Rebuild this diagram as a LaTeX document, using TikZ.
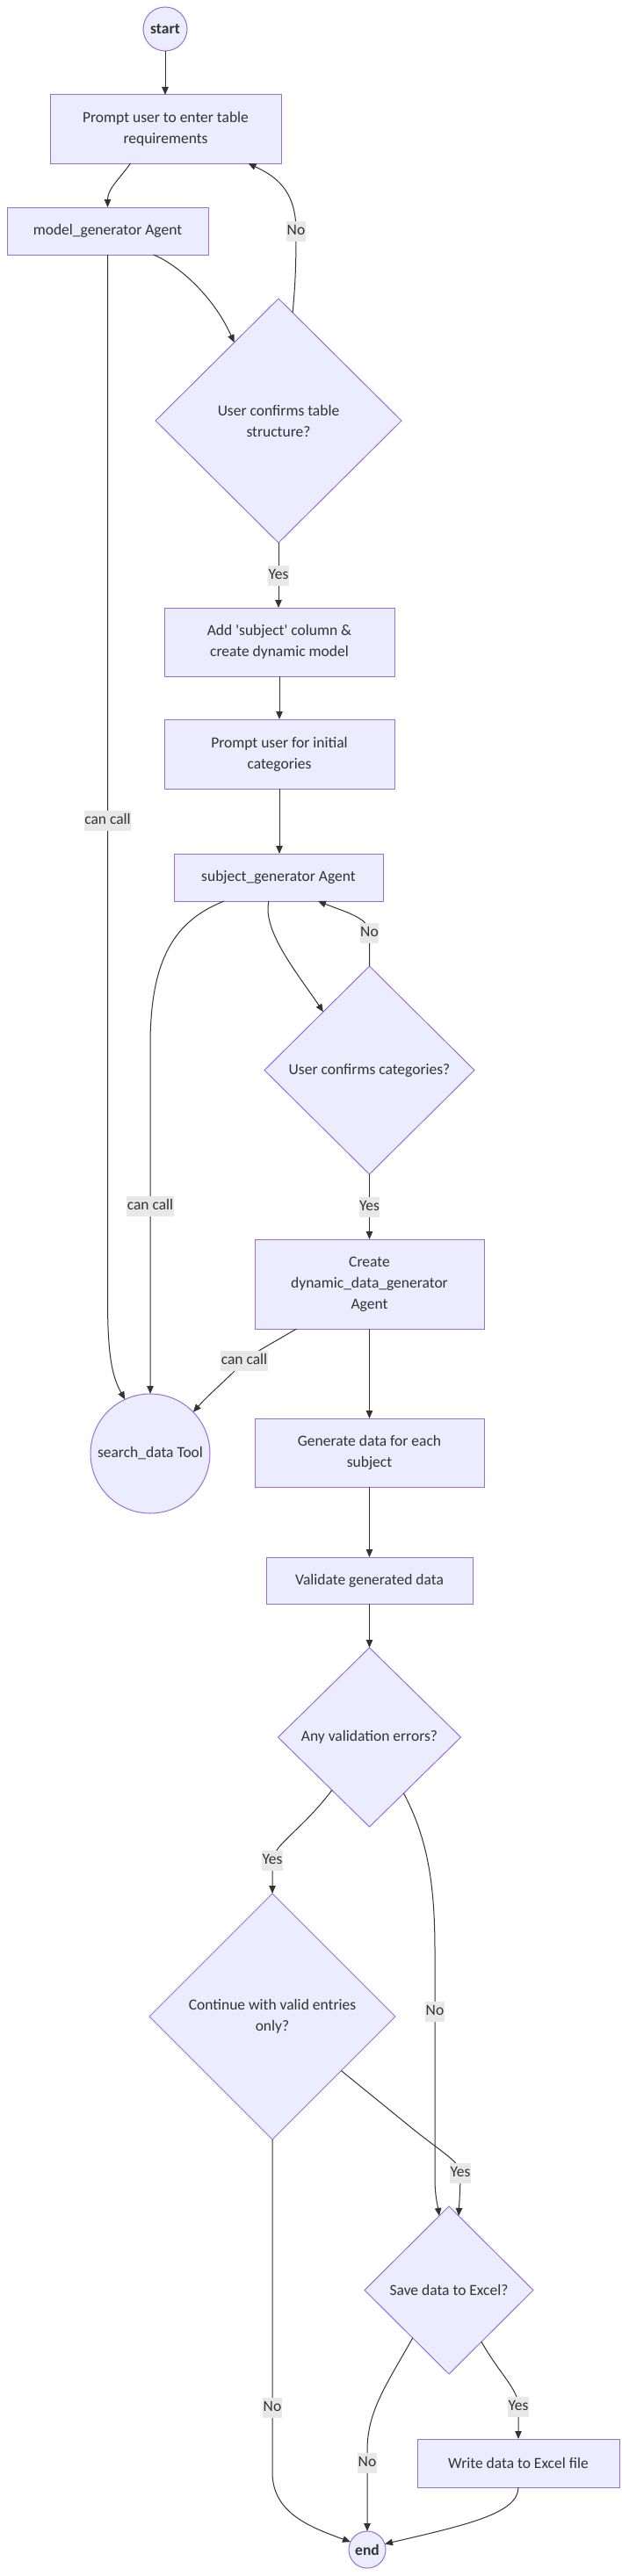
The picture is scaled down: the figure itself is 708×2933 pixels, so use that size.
\documentclass[tikz,border=0pt]{standalone}
\usepackage{fontspec}
\setmainfont{Carlito}
\usetikzlibrary{shapes.geometric,arrows.meta,calc}
\definecolor{nfill}{HTML}{ECECFF}
\definecolor{ndraw}{HTML}{9370DB}
\definecolor{ecol}{HTML}{333333}
\definecolor{lbg}{HTML}{E8E8E8}
\definecolor{tcol}{HTML}{333333}
\begin{document}
\begin{tikzpicture}[x=1pt,y=-1pt,
  base/.style={fill=nfill,draw=ndraw,line width=1pt,text=tcol,font=\fontsize{17.5}{24}\selectfont,inner sep=0pt,outer sep=0pt,align=center},
  box/.style={base,rectangle},
  dec/.style={base,diamond},
  circ/.style={base,circle},
  edge/.style={line width=1pt,draw=ecol,-{Triangle[length=9pt,width=7.5pt]}},
  lbl/.style={fill=lbg,text=tcol,font=\fontsize{17.5}{24}\selectfont,inner xsep=0.5pt,inner ysep=3pt,text height=13pt,text depth=4pt}]
\fill[white] (0,0) rectangle (708,2933);
\useasboundingbox (0,0) rectangle (708,2933);

\node[circ,minimum size=50pt,font=\fontsize{17.5}{24}\selectfont\bfseries] (start) at (188,33) {start};
\node[box,minimum width=263pt,minimum height=78pt] (prompt) at (188.5,147) {Prompt user to enter table\\requirements};
\node[box,minimum width=229pt,minimum height=54pt] (mgen) at (122.5,263) {model\_generator Agent};
\node[dec,minimum width=280pt,minimum height=278pt] (d1) at (317,479) {User confirms table\\structure?};
\node[box,minimum width=262pt,minimum height=78pt] (addsub) at (318,731) {Add \textquotesingle subject\textquotesingle\ column \&\\create dynamic model};
\node[box,minimum width=262pt,minimum height=79pt] (pcat) at (318,858.5) {Prompt user for initial\\categories};
\node[box,minimum width=238pt,minimum height=54pt] (sgen) at (317,999) {subject\_generator Agent};
\node[dec,minimum width=239pt,minimum height=237pt] (d2) at (420.5,1218.5) {User confirms categories?};
\node[box,minimum width=261pt,minimum height=102pt] (create) at (420.5,1462) {Create\\dynamic\_data\_generator\\Agent};
\node[circ,minimum size=136pt] (search) at (171,1655) {search\_data Tool};
\node[box,minimum width=261pt,minimum height=78pt] (gen) at (420.5,1654) {Generate data for each\\subject};
\node[box,minimum width=235pt,minimum height=53pt] (valid) at (420.5,1799.5) {Validate generated data};
\node[dec,minimum width=208pt,minimum height=204pt] (d3) at (420.5,1978) {Any validation errors?};
\node[dec,minimum width=280pt,minimum height=280pt] (d4) at (310,2296) {Continue with valid entries\\only?};
\node[dec,minimum width=192pt,minimum height=191pt] (d5) at (511,2607.5) {Save data to Excel?};
\node[box,minimum width=230pt,minimum height=55pt] (write) at (590,2804.5) {Write data to Excel file};
\node[circ,minimum size=42pt,font=\fontsize{17.5}{24}\selectfont\bfseries] (end) at (418,2903) {end};

\draw[edge] (start.south) -- (start.south |- prompt.north);
\draw[edge] ([xshift=-40pt]prompt.south) .. controls (135,205) and (122.5,215) .. (mgen.north);
\draw[edge] ([xshift=52pt]mgen.south) .. controls (200,300) and (242,335) .. ($(d1.north)!0.36!(d1.west)$);
\draw[edge] ($(d1.north)!0.115!(d1.east)$) .. controls (336,325) and (337,305) .. (337,263) node[lbl]{No} .. controls (337,215) and (312,200) .. ([xshift=94pt]prompt.south);
\draw[edge] (d1.south) -- node[lbl]{Yes} (d1.south |- addsub.north);
\draw[edge] (addsub.south) -- (pcat.north);
\draw[edge] (pcat.south) -- (pcat.south |- sgen.north);
\draw[edge] ([xshift=-11pt]sgen.south) .. controls (298,1060) and (340,1110) .. ($(d2.north)!0.44!(d2.west)$);
\draw[edge] (d2.north) -- (420.5,1062) node[lbl]{No} .. controls (420.5,1045) and (392,1038) .. ([xshift=45pt]sgen.south);
\draw[edge] ([xshift=-62pt]sgen.south) .. controls (200,1048) and (171,1090) .. (171,1190) -- (171,1373) node[lbl]{can call} -- (search.north);
\draw[edge] (mgen.south) -- (122.5,934) node[lbl]{can call} -- (122.5,1480) .. controls (122.5,1545) and (128,1568) .. (search.115);
\draw[edge] ([xshift=-83pt]create.south) .. controls (305,1532) and (290,1540) .. (278,1549) node[lbl]{can call} .. controls (265,1565) and (240,1585) .. (search.44);
\draw[edge] (d2.south) -- node[lbl]{Yes} (d2.south |- create.north);
\draw[edge] (create.south) -- (gen.north);
\draw[edge] (gen.south) -- (valid.north);
\draw[edge] (valid.south) -- (d3.north);
\draw[edge] ($(d3.south)!0.41!(d3.west)$) .. controls (345,2082) and (312,2100) .. (310,2118) node[lbl]{Yes} -- (d4.north);
\draw[edge] ($(d3.south)!0.375!(d3.east)$) .. controls (485,2090) and (495,2140) .. (495,2220) -- (495,2290) node[lbl]{No} -- (495,2480) .. controls (495,2500) and (498,2510) .. ($(d5.north)!0.115!(d5.west)$);
\draw[edge] ($(d4.east)!0.44!(d4.south)$) -- (470,2424) .. controls (505,2452) and (524,2462) .. (524,2474) node[lbl]{Yes} .. controls (524,2490) and (523,2505) .. ($(d5.north)!0.115!(d5.east)$);
\draw[edge] ($(d5.south)!0.43!(d5.west)$) .. controls (440,2715) and (418,2745) .. (418,2790) -- (418,2804) node[lbl]{No} -- (end.north);
\draw[edge] ($(d5.south)!0.385!(d5.east)$) .. controls (570,2705) and (590,2720) .. (590,2740) node[lbl]{Yes} -- (write.north);
\draw[edge] (write.south) .. controls (590,2862) and (530,2875) .. (end.18);
\draw[edge] (d4.south) -- (310,2741) node[lbl]{No} -- (310,2815) .. controls (310,2862) and (355,2878) .. (end.155);
\end{tikzpicture}
\end{document}
